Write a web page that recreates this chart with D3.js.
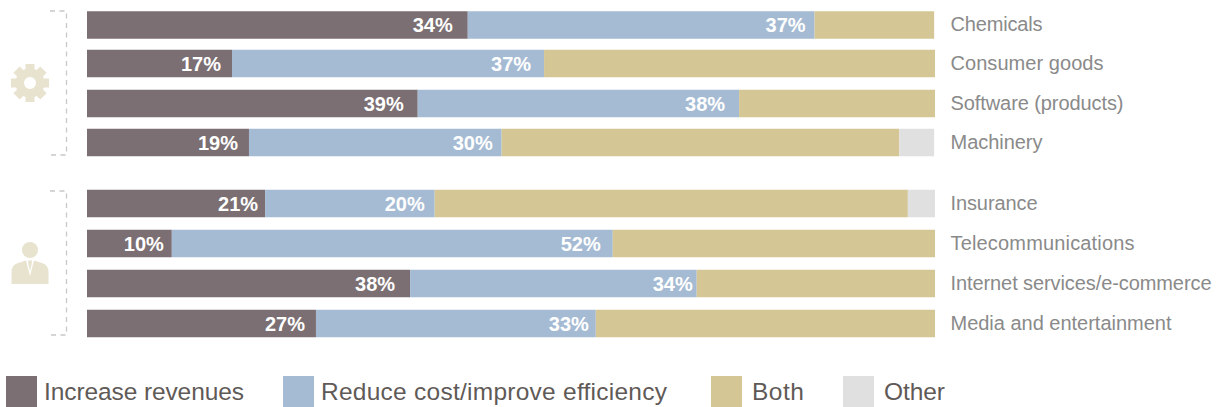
<!DOCTYPE html>
<html><head><meta charset="utf-8">
<style>html,body{margin:0;padding:0;background:#fff}svg{display:block}text{font-family:"Liberation Sans",Arial,sans-serif}</style>
<script src="https://cdn.jsdelivr.net/npm/d3@7"></script></head>
<body><svg id="c" width="1221" height="407"></svg>
<script>
const categories=["Chemicals","Consumer goods","Software (products)","Machinery","Insurance","Telecommunications","Internet services/e-commerce","Media and entertainment"];
const seriesNames=["Increase revenues","Reduce cost/improve efficiency","Both","Other"];
const colours=["#7b6f73","#a5bbd3","#d4c795","#e0e0e0"];
const increaseRevenues=[44.9,17.1,39,19.1,21,10,38.1,27];
const reduceCost=[40.9,36.8,37.9,29.8,20,52,33.8,33];
const both=[14.1,46.1,23.1,46.9,55.8,38,28.1,40];
const other=[0,0,0,4.1,3.2,0,0,0];
const revenueLabels=["34%","17%","39%","19%","21%","10%","38%","27%"];
const reduceLabels=["37%","37%","38%","30%","20%","52%","34%","33%"];
// layout
const rowCentres=[25,63.5,103.5,142.5,203.5,243.5,283.5,323.5];
const revenueInset=[15,11,14,11,7,8,15,11];
const reduceInset=[9,13,14,9,10,12,4,7];
const nameWidths=[92,153,173,92,87,184,261,221];
const legendSwatchX=[6,283,711,843];
const legendTextX=[44,321,752,884];
const legendTextW=[200,346,52,61];

const svg=d3.select("#c");
const x=d3.scaleLinear().domain([0,100]).range([87,935]);
const H=27.5;
const rows=categories.map((c,i)=>({c,i,vals:[increaseRevenues[i],reduceCost[i],both[i],other[i]]}));
const g=svg.selectAll("g.row").data(rows).join("g").attr("class","row");
g.each(function(d){
  let acc=0;
  const sel=d3.select(this);
  d.vals.forEach((v,k)=>{
    if(v>0) sel.append("rect").attr("x",x(acc)).attr("y",rowCentres[d.i]-H/2).attr("width",x(acc+v)-x(acc)).attr("height",H).attr("fill",colours[k]);
    acc+=v;
  });
  const a=d.vals[0],b=d.vals[1];
  sel.append("text").attr("x",x(a)-revenueInset[d.i]).attr("y",rowCentres[d.i]+7).attr("text-anchor","end").attr("fill","#fff").attr("font-weight","bold").attr("font-size",20).text(revenueLabels[d.i]);
  sel.append("text").attr("x",x(a+b)-reduceInset[d.i]).attr("y",rowCentres[d.i]+7).attr("text-anchor","end").attr("fill","#fff").attr("font-weight","bold").attr("font-size",20).text(reduceLabels[d.i]);
  sel.append("text").attr("x",950.5).attr("y",rowCentres[d.i]+6).attr("fill","#8a8a8a").attr("font-size",20).attr("textLength",nameWidths[d.i]).attr("lengthAdjust","spacing").text(d.c);
});
// legend
seriesNames.forEach((n,i)=>{
  svg.append("rect").attr("x",legendSwatchX[i]).attr("y",376).attr("width",31).attr("height",31).attr("fill",colours[i]);
  svg.append("text").attr("x",legendTextX[i]).attr("y",400).attr("fill","#5f5a57").attr("font-size",24.5).attr("textLength",legendTextW[i]).attr("lengthAdjust","spacing").text(n);
});
// brackets
[[11,155],[191,335]].forEach(([t,b])=>{
  svg.append("path").attr("d",`M50 ${t}H66.5V${b}H50`).attr("fill","none").attr("stroke","#c8c8c8").attr("stroke-width",1.3).attr("stroke-dasharray","5 4.5");
});
// gear icon
const gear=svg.append("g").attr("transform","translate(30,83)").attr("fill","#e8e3cf");
d3.range(8).forEach(i=>gear.append("rect").attr("x",-4.5).attr("y",-19).attr("width",9).attr("height",12).attr("transform",`rotate(${i*45})`));
gear.append("path").attr("d",d3.arc()({innerRadius:6,outerRadius:14.5,startAngle:0,endAngle:2*Math.PI}));
// person icon
const p=svg.append("g").attr("fill","#e8e3cf");
p.append("circle").attr("cx",30).attr("cy",250).attr("r",8);
p.append("path").attr("d","M11.5 284V272Q11.5 265 18 263L26 260.5L30 276L34 260.5L42 263Q48.5 265 48.5 272V284Z");
p.append("path").attr("d","M28 260.5H32L31.5 265L30 271L28.5 265Z");
</script></body></html>
